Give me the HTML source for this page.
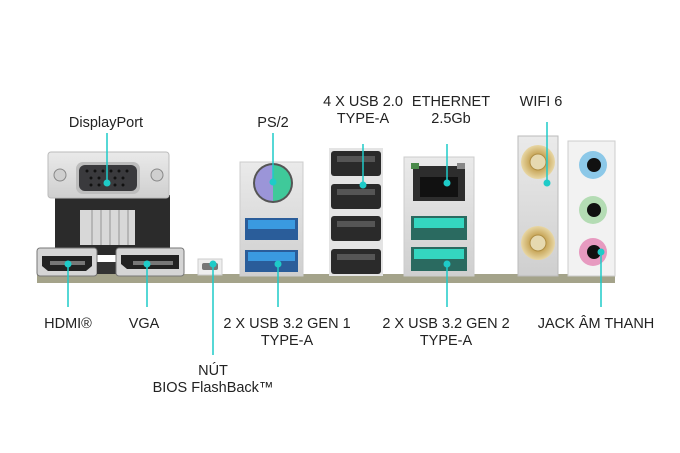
<!DOCTYPE html>
<html><head><meta charset="utf-8"><style>
html,body{margin:0;padding:0;background:#fff;width:680px;height:453px;overflow:hidden}
text{font-family:"Liberation Sans",sans-serif;font-size:14.5px;fill:#222;text-anchor:middle}
</style></head><body>
<svg width="680" height="453" viewBox="0 0 680 453" xmlns="http://www.w3.org/2000/svg">
<defs>
<linearGradient id="silver" x1="0" y1="0" x2="0" y2="1"><stop offset="0" stop-color="#eaeaea"/><stop offset="1" stop-color="#cfcfcf"/></linearGradient>
<radialGradient id="gold"><stop offset="0" stop-color="#f3e7c0"/><stop offset="0.5" stop-color="#c9a85c"/><stop offset="1" stop-color="#e8d7a5"/></radialGradient>
</defs>
<!-- base strip -->
<rect x="37" y="274" width="578" height="9" fill="#a4a38a"/>
<!-- VGA/DP block -->
<rect x="55" y="195" width="115" height="60" fill="#2b2b2b"/>
<rect x="80" y="210" width="55" height="35" fill="#d8d8d8"/>
<g stroke="#aaa" stroke-width="1.5"><line x1="92" y1="210" x2="92" y2="245"/><line x1="101" y1="210" x2="101" y2="245"/><line x1="110" y1="210" x2="110" y2="245"/><line x1="119" y1="210" x2="119" y2="245"/><line x1="128" y1="210" x2="128" y2="245"/></g>
<rect x="48" y="152" width="121" height="46" rx="3" fill="url(#silver)" stroke="#bbb"/>
<circle cx="60" cy="175" r="6" fill="#cfcfcf" stroke="#888"/>
<circle cx="157" cy="175" r="6" fill="#cfcfcf" stroke="#888"/>
<rect x="76" y="162" width="64" height="32" rx="7" fill="#bdbdbd"/>
<rect x="79" y="165" width="58" height="26" rx="6" fill="#3a3a3d"/>
<g fill="#111"><circle cx="87" cy="171" r="1.5"/><circle cx="95" cy="171" r="1.5"/><circle cx="103" cy="171" r="1.5"/><circle cx="111" cy="171" r="1.5"/><circle cx="119" cy="171" r="1.5"/><circle cx="127" cy="171" r="1.5"/><circle cx="91" cy="178" r="1.5"/><circle cx="99" cy="178" r="1.5"/><circle cx="115" cy="178" r="1.5"/><circle cx="123" cy="178" r="1.5"/><circle cx="91" cy="185" r="1.5"/><circle cx="99" cy="185" r="1.5"/><circle cx="107" cy="185" r="1.5"/><circle cx="115" cy="185" r="1.5"/><circle cx="123" cy="185" r="1.5"/></g>
<!-- HDMI -->
<rect x="37" y="248" width="60" height="28" rx="3" fill="#d5d5d5" stroke="#777"/>
<path d="M42 256 h50 v10 l-6 5 h-38 l-6 -5z" fill="#222"/>
<rect x="50" y="261" width="35" height="4" fill="#777"/>
<rect x="97" y="262" width="20" height="12" fill="#333"/>
<!-- DP -->
<rect x="116" y="248" width="68" height="28" rx="3" fill="#d5d5d5" stroke="#777"/>
<path d="M121 255 h58 v14 h-52 l-6 -5z" fill="#222"/>
<rect x="133" y="261" width="40" height="4" fill="#777"/>
<!-- BIOS button -->
<rect x="198" y="259" width="24" height="16" fill="#eee" stroke="#ccc"/>
<rect x="202" y="263" width="16" height="7" rx="2" fill="#777"/>
<!-- PS2 + USB3 gen1 -->
<rect x="240" y="162" width="63" height="114" fill="url(#silver)" stroke="#ccc"/>
<circle cx="273" cy="183" r="20" fill="#555"/>
<path d="M273 165 a18 18 0 0 0 0 36z" fill="#9b95d8"/>
<path d="M273 165 a18 18 0 0 1 0 36z" fill="#3fc99a"/>
<rect x="245" y="218" width="53" height="22" fill="#2a5d9a"/>
<rect x="248" y="220" width="47" height="9" fill="#3a9ae0"/>
<rect x="245" y="250" width="53" height="22" fill="#2a5d9a"/>
<rect x="248" y="252" width="47" height="9" fill="#3a9ae0"/>
<!-- USB 2.0 stack -->
<rect x="329" y="148" width="54" height="128" fill="#e4e4e4"/>
<g fill="#2a2a2a"><rect x="331" y="151" width="50" height="25" rx="3"/><rect x="331" y="184" width="50" height="25" rx="3"/><rect x="331" y="216" width="50" height="25" rx="3"/><rect x="331" y="249" width="50" height="25" rx="3"/></g>
<g fill="#555"><rect x="337" y="156" width="38" height="6"/><rect x="337" y="189" width="38" height="6"/><rect x="337" y="221" width="38" height="6"/><rect x="337" y="254" width="38" height="6"/></g>
<!-- Ethernet + USB gen2 -->
<rect x="404" y="157" width="70" height="119" fill="url(#silver)" stroke="#ccc"/>
<rect x="413" y="166" width="52" height="35" fill="#2d2d2d"/>
<rect x="420" y="177" width="38" height="20" fill="#111"/>
<rect x="411" y="163" width="8" height="6" fill="#4a8a4a"/><rect x="457" y="163" width="8" height="6" fill="#888"/>
<rect x="411" y="216" width="56" height="24" fill="#2a6a60"/>
<rect x="414" y="218" width="50" height="10" fill="#34d6c0"/>
<rect x="411" y="247" width="56" height="24" fill="#2a6a60"/>
<rect x="414" y="249" width="50" height="10" fill="#34d6c0"/>
<!-- WiFi -->
<rect x="518" y="136" width="40" height="140" fill="url(#silver)" stroke="#bbb"/>
<circle cx="538" cy="162" r="17" fill="url(#gold)"/><circle cx="538" cy="162" r="8" fill="#e6d9b0" stroke="#b08f45"/>
<circle cx="538" cy="243" r="17" fill="url(#gold)"/><circle cx="538" cy="243" r="8" fill="#e6d9b0" stroke="#b08f45"/>
<!-- Audio -->
<rect x="568" y="141" width="47" height="135" fill="#f2f2f2" stroke="#ccc"/>
<circle cx="593" cy="165" r="14" fill="#8cc8e8"/><circle cx="594" cy="165" r="7" fill="#111"/>
<circle cx="593" cy="210" r="14" fill="#b4dcb4"/><circle cx="594" cy="210" r="7" fill="#111"/>
<circle cx="593" cy="252" r="14" fill="#e79ac0"/><circle cx="594" cy="252" r="7" fill="#111"/>
<!-- leader lines -->
<g stroke="#1ecbc8" stroke-width="1.5">
<line x1="107" y1="133" x2="107" y2="183"/>
<line x1="273" y1="133" x2="273" y2="182"/>
<line x1="363" y1="144" x2="363" y2="185"/>
<line x1="447" y1="144" x2="447" y2="183"/>
<line x1="547" y1="122" x2="547" y2="183"/>
<line x1="68" y1="264" x2="68" y2="307"/>
<line x1="147" y1="264" x2="147" y2="307"/>
<line x1="213" y1="264" x2="213" y2="355"/>
<line x1="278" y1="264" x2="278" y2="307"/>
<line x1="447" y1="264" x2="447" y2="307"/>
<line x1="601" y1="252" x2="601" y2="307"/>
</g>
<g fill="#1ecbc8">
<circle cx="107" cy="183" r="3.5"/><circle cx="273" cy="182" r="3.5"/><circle cx="363" cy="185" r="3.5"/><circle cx="447" cy="183" r="3.5"/><circle cx="547" cy="183" r="3.5"/>
<circle cx="68" cy="264" r="3.5"/><circle cx="147" cy="264" r="3.5"/><circle cx="213" cy="264" r="3.5"/><circle cx="278" cy="264" r="3.5"/><circle cx="447" cy="264" r="3.5"/><circle cx="601" cy="252" r="3.5"/>
</g>
<!-- labels -->
<text x="106" y="127">DisplayPort</text>
<text x="273" y="127">PS/2</text>
<text x="363" y="106">4 X USB 2.0</text>
<text x="363" y="123">TYPE-A</text>
<text x="451" y="106">ETHERNET</text>
<text x="451" y="123">2.5Gb</text>
<text x="541" y="106">WIFI 6</text>
<text x="68" y="328">HDMI®</text>
<text x="144" y="328">VGA</text>
<text x="287" y="328">2 X USB 3.2 GEN 1</text>
<text x="287" y="345">TYPE-A</text>
<text x="446" y="328">2 X USB 3.2 GEN 2</text>
<text x="446" y="345">TYPE-A</text>
<text x="596" y="328">JACK ÂM THANH</text>
<text x="213" y="375">NÚT</text>
<text x="213" y="392">BIOS FlashBack™</text>
</svg>
</body></html>
